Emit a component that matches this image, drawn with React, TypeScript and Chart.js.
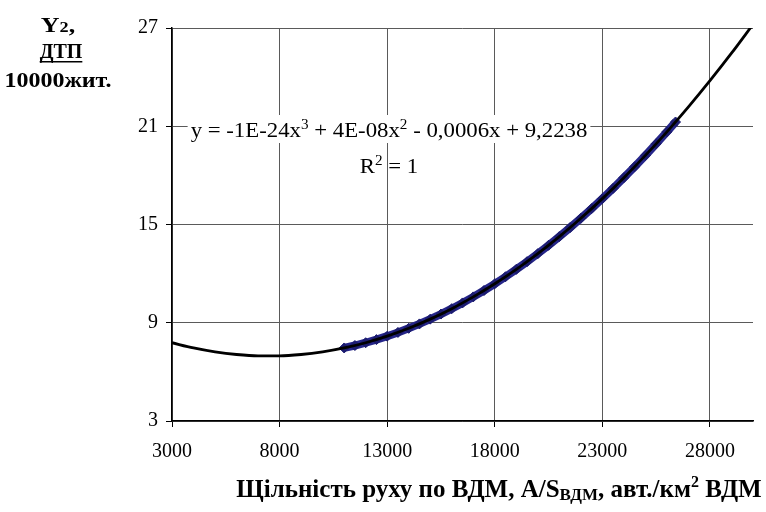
import React, { useEffect, useRef } from "react";
import { Chart, registerables } from "chart.js";
Chart.register(...registerables);

const xTicks = [3000, 8000, 13000, 18000, 23000, 28000];
const yTicks = [3, 9, 15, 21, 27];

// black trend line
const trendX = [3000, 4000, 5000, 6000, 7000, 8000, 9000, 10000, 11000, 12000, 13000, 14000, 15000, 16000, 17000, 18000, 19000, 20000, 21000, 22000, 23000, 24000, 25000, 26000, 27000, 28000, 29000, 30000];
const trendY = [7.78, 7.46, 7.22, 7.06, 6.98, 6.98, 7.06, 7.22, 7.46, 7.78, 8.18, 8.66, 9.22, 9.86, 10.58, 11.38, 12.26, 13.22, 14.26, 15.38, 16.58, 17.86, 19.22, 20.66, 22.18, 23.78, 25.46, 27.22];

// navy data points
const dataX = [11000, 11500, 12000, 12500, 13000, 13500, 14000, 14500, 15000, 15500, 16000, 16500, 17000, 17500, 18000, 18500, 19000, 19500, 20000, 20500, 21000, 21500, 22000, 22500, 23000, 23500, 24000, 24500, 25000, 25500, 26000, 26400];
const dataY = [7.46, 7.61, 7.78, 7.97, 8.18, 8.41, 8.66, 8.93, 9.22, 9.53, 9.86, 10.21, 10.58, 10.97, 11.38, 11.81, 12.26, 12.73, 13.22, 13.73, 14.26, 14.81, 15.38, 15.97, 16.58, 17.21, 17.86, 18.53, 19.22, 19.93, 20.66, 21.26];

const SERIF = '"Liberation Serif", "Times New Roman", serif';

type Run = { text: string; font: string; dy?: number };

function measureRuns(ctx: CanvasRenderingContext2D, runs: Run[]) {
  let total = 0;
  for (const r of runs) {
    ctx.font = r.font;
    total += ctx.measureText(r.text).width;
  }
  return total;
}

function drawRuns(ctx: CanvasRenderingContext2D, runs: Run[], cx: number, y: number, sx = 1) {
  const total = measureRuns(ctx, runs);
  ctx.save();
  ctx.translate(cx, y);
  ctx.scale(sx, 1);
  let x = -total / 2;
  for (const r of runs) {
    ctx.font = r.font;
    ctx.fillText(r.text, x, r.dy || 0);
    x += ctx.measureText(r.text).width;
  }
  ctx.restore();
  return { left: cx - (total * sx) / 2, width: total * sx };
}

const textPlugin = {
  id: "texts",
  afterDraw(chart: any) {
    const ctx: CanvasRenderingContext2D = chart.ctx;
    ctx.save();
    ctx.fillStyle = "#000";
    ctx.textBaseline = "alphabetic";
    const b20 = `bold 20px ${SERIF}`;
    // y axis title
    drawRuns(ctx, [{ text: "Y", font: b20 }, { text: "2", font: `bold 14px ${SERIF}` }, { text: ",", font: b20 }], 58, 32, 1.3);
    const r = drawRuns(ctx, [{ text: "ДТП", font: b20 }], 61, 58);
    ctx.fillRect(r.left, 61, r.width, 1.5);
    drawRuns(ctx, [{ text: "10000жит.", font: b20 }], 58, 87, 1.2);

    // x axis title
    const b25 = `bold 25px ${SERIF}`;
    drawRuns(ctx, [
      { text: "Щільність руху по ВДМ, A/S", font: b25 },
      { text: "ВДМ", font: `bold 17px ${SERIF}`, dy: 3 },
      { text: ", авт./км", font: b25 },
      { text: "2", font: `bold 16px ${SERIF}`, dy: -10 },
      { text: " ВДМ", font: b25 },
    ], 499, 497);

    // trendline equation
    const f21 = `21px ${SERIF}`;
    const f14 = `14px ${SERIF}`;
    const eq: Run[] = [
      { text: "y = -1E-24x", font: f21 },
      { text: "3", font: f14, dy: -8 },
      { text: " + 4E-08x", font: f21 },
      { text: "2", font: f14, dy: -8 },
      { text: " - 0,0006x + 9,2238", font: f21 },
    ];
    const sx = 1.085;
    const w = measureRuns(ctx, eq) * sx;
    ctx.fillStyle = "#fff";
    ctx.fillRect(389 - w / 2 - 3, 115, w + 6, 28);
    ctx.fillStyle = "#000";
    drawRuns(ctx, eq, 389, 137, sx);
    drawRuns(ctx, [
      { text: "R", font: f21 },
      { text: "2", font: f14, dy: -8 },
      { text: " = 1", font: f21 },
    ], 389, 173, sx);
    ctx.restore();
  },
};

export default function App() {
  const ref = useRef<HTMLCanvasElement>(null);
  useEffect(() => {
    document.body.style.margin = "0";
    const chart = new Chart(ref.current!, {
      type: "scatter",
      data: {
        datasets: [
          {
            label: "trend",
            data: trendX.map((x, i) => ({ x, y: trendY[i] })),
            showLine: true,
            borderColor: "#000",
            borderWidth: 2.8,
            pointRadius: 0,
            tension: 0.4,
            cubicInterpolationMode: "monotone",
            order: 0,
          },
          {
            label: "data",
            data: dataX.map((x, i) => ({ x, y: dataY[i] })),
            showLine: true,
            borderColor: "#26268a",
            backgroundColor: "#1c1c70",
            borderWidth: 8,
            pointStyle: "rectRot",
            pointRadius: 5,
            pointBorderWidth: 1,
            pointBorderColor: "#1c1c70",
            order: 1,
          },
        ],
      },
      options: {
        animation: false,
        responsive: false,
        events: [],
        layout: { padding: { left: 0, top: 28, right: 13, bottom: 41 } },
        plugins: { legend: { display: false }, tooltip: { enabled: false } },
        scales: {
          x: {
            type: "linear",
            min: 3000,
            max: 30000,
            afterBuildTicks: (s: any) => { s.ticks = xTicks.map((v) => ({ value: v })); },
            afterFit: (s: any) => { s.height = 50; },
            grid: { color: "#5a5a5a", lineWidth: 1, tickLength: 6, tickColor: "#000" },
            border: { display: true, color: "#000", width: 1.5 },
            ticks: { color: "#000", font: { family: SERIF, size: 20 }, padding: 13, maxRotation: 0, callback: (v: any) => String(v) },
          },
          y: {
            type: "linear",
            min: 3,
            max: 27,
            afterBuildTicks: (s: any) => { s.ticks = yTicks.map((v) => ({ value: v })); },
            afterFit: (s: any) => { s.width = 172; },
            grid: { color: "#5a5a5a", lineWidth: 1, tickLength: 6, tickColor: "#000" },
            border: { display: true, color: "#000", width: 1.5 },
            ticks: { color: "#000", font: { family: SERIF, size: 20 }, padding: 8, callback: (v: any) => String(v) },
          },
        },
      },
      plugins: [textPlugin],
    });
    return () => chart.destroy();
  }, []);
  return (
    <div style={{ position: "fixed", left: 0, top: 0, width: 766, height: 512, background: "#fff" }}>
      <canvas ref={ref} width={766} height={512} />
    </div>
  );
}
